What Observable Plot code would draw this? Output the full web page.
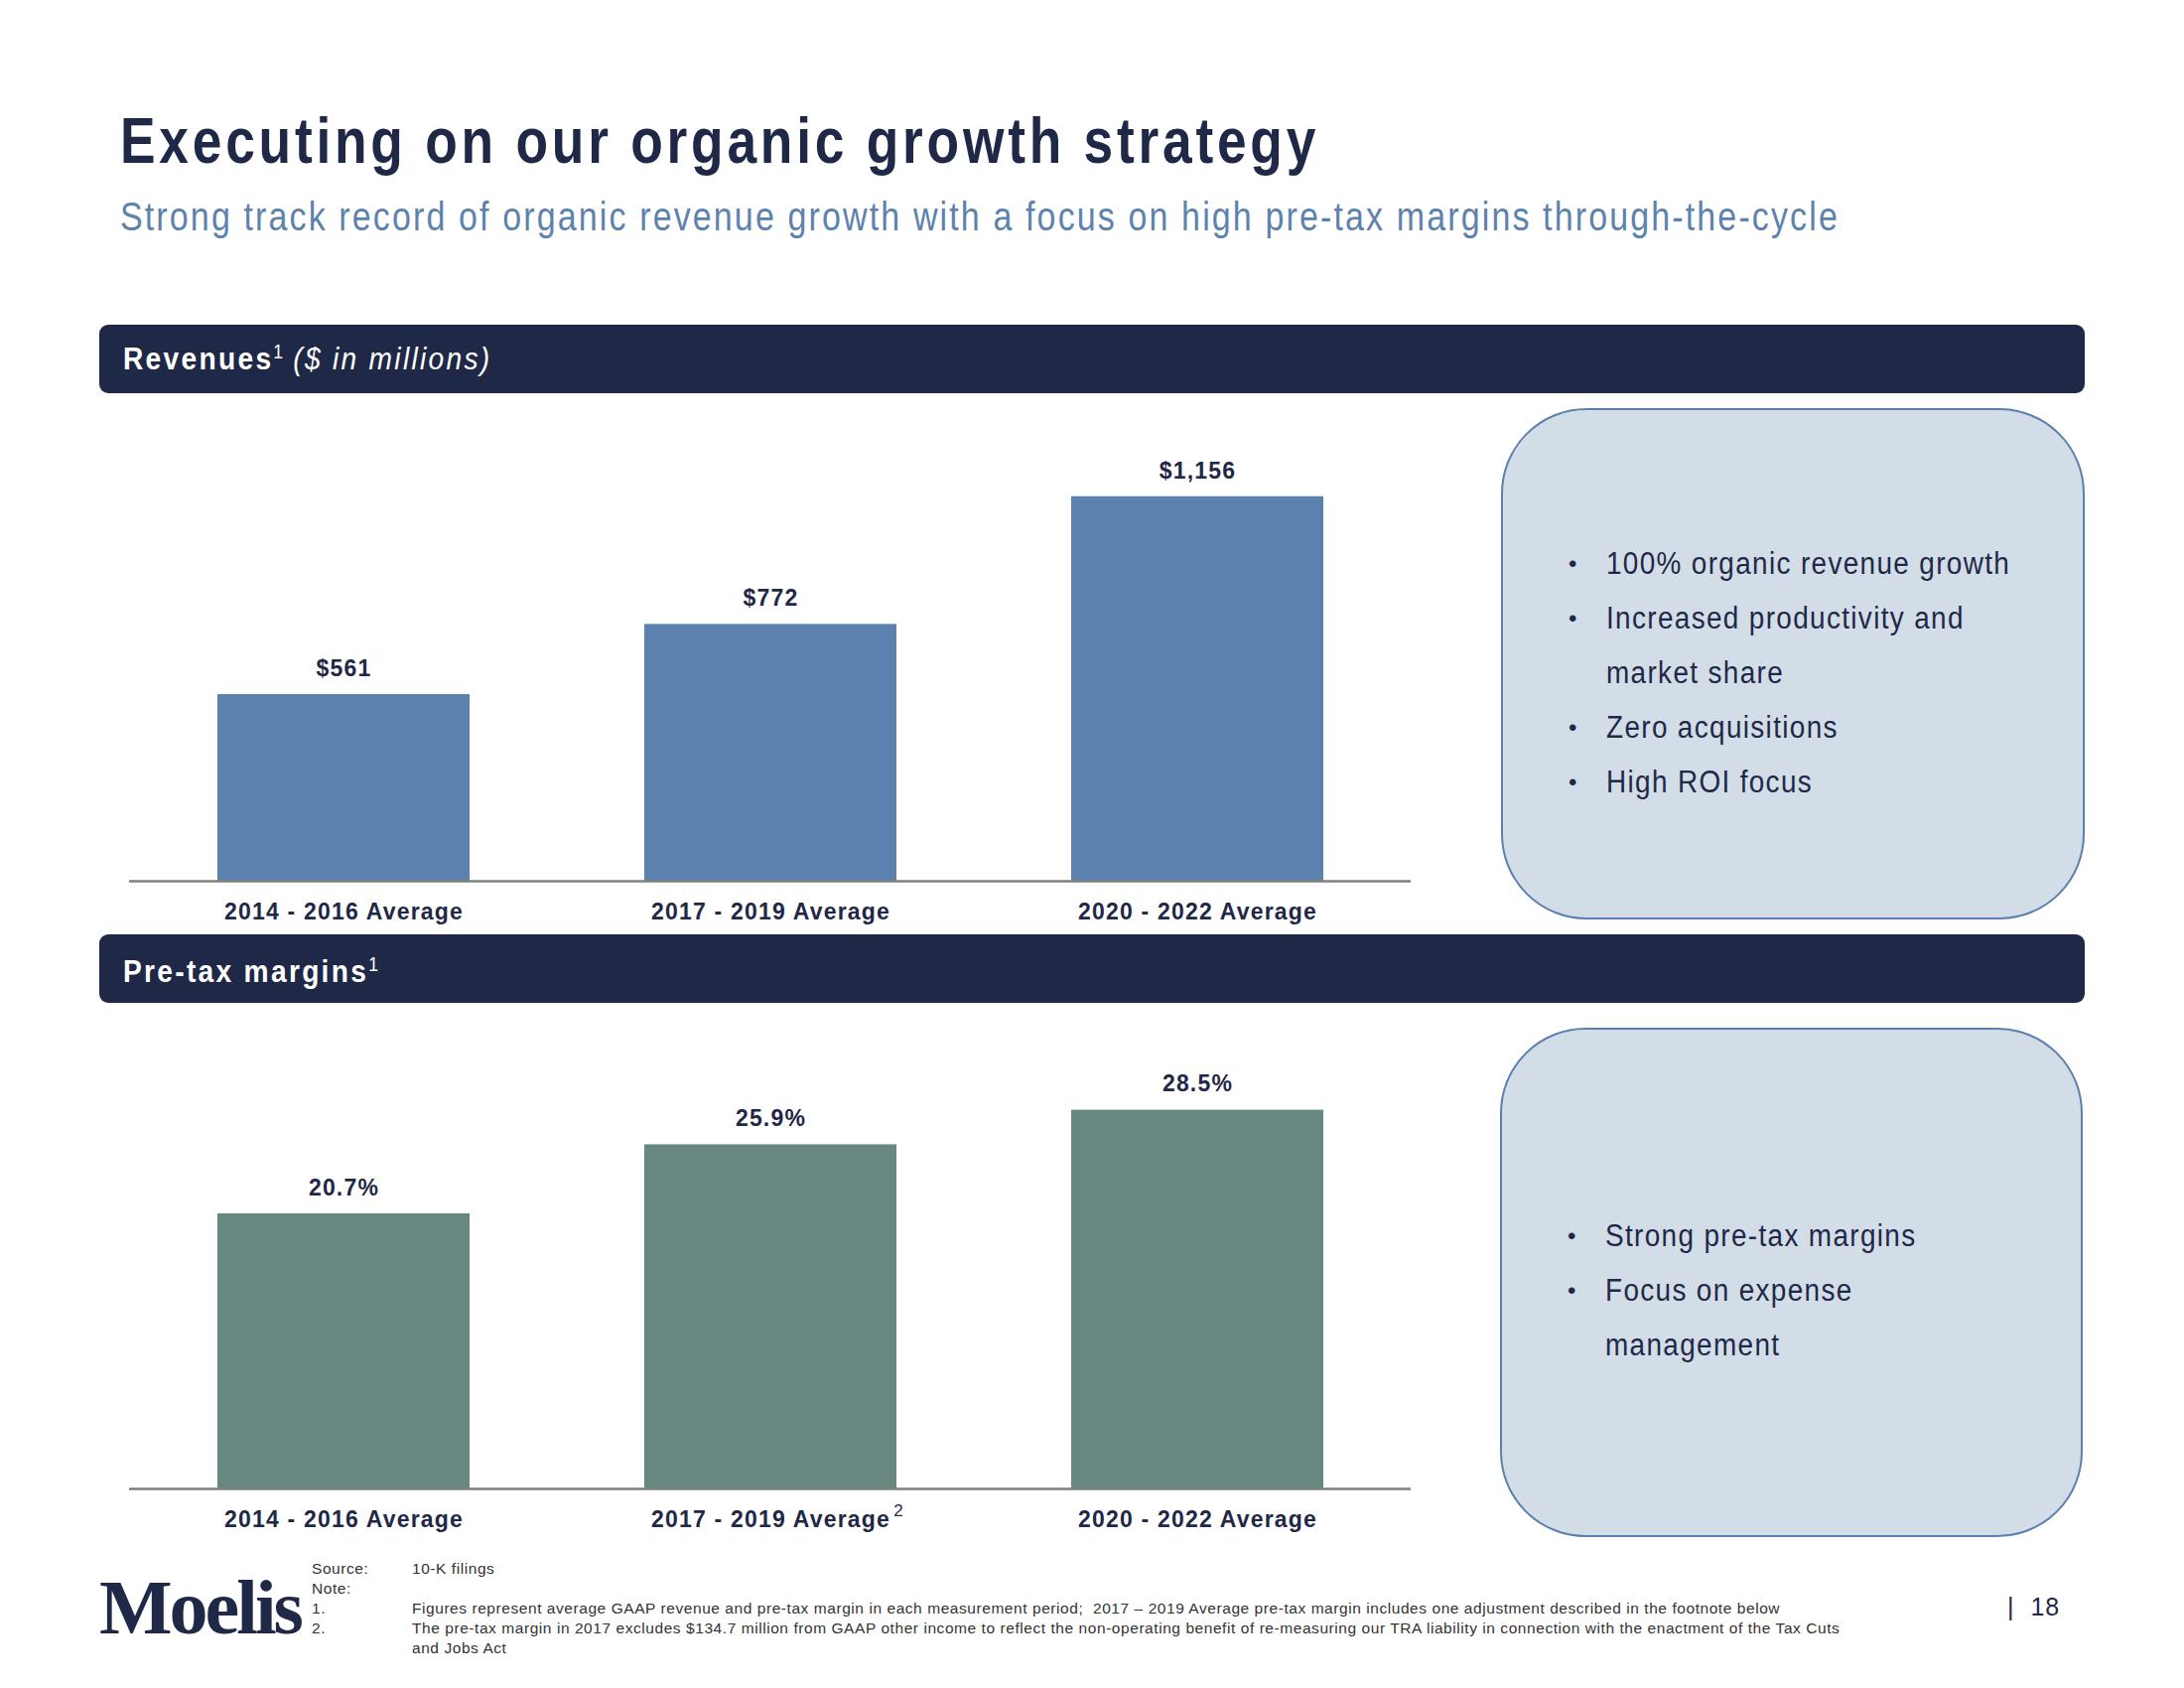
<!DOCTYPE html>
<html>
<head>
<meta charset="utf-8">
<script src="https://cdn.jsdelivr.net/npm/d3@7"></script>
<script src="https://cdn.jsdelivr.net/npm/@observablehq/plot@0.6"></script>
<style>
  html, body { margin: 0; padding: 0; background: #ffffff; }
  #page { position: relative; width: 2200px; height: 1700px; overflow: hidden; background: #fff;
          font-family: "Liberation Sans", Arial, sans-serif; }
  .abs { position: absolute; }
  #title { left: 121px; top: 104px; font-size: 65px; font-weight: bold; color: #1f2847; letter-spacing: 4.6px; white-space: nowrap; transform: scaleX(0.82); transform-origin: 0 0; }
  #subtitle { left: 121px; top: 196px; font-size: 40px; color: #5d82ad; letter-spacing: 2.5px; white-space: nowrap; transform: scaleX(0.85); transform-origin: 0 0; }
  .hdr { left: 100px; width: 2000px; height: 69px; background: #1f2847; border-radius: 9px; }
  .hdrtext { position: absolute; left: 24px; top: 16px; font-size: 32px; color: #fff; letter-spacing: 2.6px; white-space: nowrap; transform: scaleX(0.88); transform-origin: 0 0; }
  .hdrtext b { font-weight: bold; }
  .hdrtext sup { font-size: 20px; vertical-align: 11px; letter-spacing: 0; }
  .hdrtext i { font-style: italic; font-weight: normal; letter-spacing: 2.6px; }
  .box { background: #d3dde7; border: 2.5px solid #5b80ad; border-radius: 86px; box-sizing: border-box; }
  .box ul { list-style: none; margin: 0; padding: 0; position: absolute; left: 66px; }
  .box li { position: relative; font-size: 31px; color: #1f2847; line-height: 55px; padding-left: 38px; letter-spacing: 1.5px; white-space: nowrap; }
  .box li span { display: inline-block; transform: scaleX(0.9); transform-origin: 0 50%; }
  .box li.b::before { content: "•"; position: absolute; left: 0; top: 0; font-size: 24px; }
  .chart { position: absolute; }
  #logo { left: 100px; top: 1574px; font-family: "Liberation Serif", "DejaVu Serif", serif; font-weight: bold; font-size: 78px; color: #1f2847; letter-spacing: -3px; }
  .fn { font-size: 15.5px; color: #333; letter-spacing: 0.56px; white-space: nowrap; line-height: 20px; }
  #pnum { left: 2022px; top: 1604px; font-size: 25px; color: #1f2847; letter-spacing: 1px; }
</style>
</head>
<body>
<div id="page">
  <div id="title" class="abs">Executing on our organic growth strategy</div>
  <div id="subtitle" class="abs">Strong track record of organic revenue growth with a focus on high pre-tax margins through-the-cycle</div>

  <div class="abs hdr" style="top:327px"><div class="hdrtext"><b>Revenues</b><sup>1</sup> <i>($ in millions)</i></div></div>
  <div class="abs hdr" style="top:941px"><div class="hdrtext" style="top:19px"><b>Pre-tax margins</b><sup>1</sup></div></div>

  <div id="chartRev" class="chart" style="left:130px; top:420px"></div>
  <div id="chartMar" class="chart" style="left:130px; top:1040px"></div>

  <div class="abs box" style="left:1512px; top:411px; width:588px; height:515px">
    <ul id="bullets1" style="top:127px"></ul>
  </div>
  <div class="abs box" style="left:1511px; top:1035px; width:587px; height:513px">
    <ul id="bullets2" style="top:180px"></ul>
  </div>

  <div id="logo" class="abs">Moelis</div>
  <div class="abs fn" style="left:314px; top:1570px">Source:<br>Note:<br>1.<br>2.</div>
  <div class="abs fn" style="left:415px; top:1570px">10-K filings<br>&nbsp;<br>
    Figures represent average GAAP revenue and pre-tax margin in each measurement period;&nbsp; 2017 – 2019 Average pre-tax margin includes one adjustment described in the footnote below<br>
    The pre-tax margin in 2017 excludes $134.7 million from GAAP other income to reflect the non-operating benefit of re-measuring our TRA liability in connection with the enactment of the Tax Cuts<br>
    and Jobs Act</div>
  <div id="pnum" class="abs">|&nbsp;&nbsp;18</div>
</div>

<script>
// ---------- data ----------
const periods = ["2014 - 2016 Average", "2017 - 2019 Average", "2020 - 2022 Average"];
const revenues = [561, 772, 1156];            // $ in millions
const margins = [20.7, 25.9, 28.5];           // pre-tax margin %
const marginNotes = ["", "2", ""];            // footnote markers on the margin chart labels
const revenueBullets = [["100% organic revenue growth"], ["Increased productivity and", "market share"], ["Zero acquisitions"], ["High ROI focus"]];
const marginBullets = [["Strong pre-tax margins"], ["Focus on expense", "management"]];

// ---------- bullets ----------
function fillBullets(id, items) {
  const ul = document.getElementById(id);
  items.forEach(lines => {
    lines.forEach((t, i) => {
      const li = document.createElement("li");
      li.className = i === 0 ? "b" : "cont";
      const s = document.createElement("span");
      s.textContent = t;
      li.appendChild(s);
      ul.appendChild(li);
    });
  });
}
fillBullets("bullets1", revenueBullets);
fillBullets("bullets2", marginBullets);

// ---------- charts ----------
const FONT = '"Liberation Sans", Arial, sans-serif';
const W = 1291;

function barChart(values, fmt, color, yMax, plotH, notes) {
  const data = periods.map((p, i) => ({period: p, value: values[i], label: fmt(values[i]), note: notes ? notes[i] : ""}));
  const marks = [
    Plot.barY(data, {x: "period", y: "value", fill: color}),
    Plot.ruleY([0], {stroke: "#7f7f7f", strokeWidth: 2.5}),
    Plot.text(data, {x: "period", y: "value", text: "label", dy: -26, fontSize: 23, fontWeight: "bold", fill: "#1f2847", fontFamily: FONT}),
    Plot.axisX({tickSize: 0, tickPadding: 22, fontSize: 23, fontWeight: "bold", fill: "#1f2847", label: null, fontFamily: FONT})
  ];
  if (notes) {
    marks.push(Plot.text(data.filter(d => d.note), {x: "period", y: 0, text: "note", dx: 129, dy: 22, fontSize: 17, fill: "#1f2847", fontFamily: FONT}));
  }
  return Plot.plot({
    width: W,
    height: plotH + 62,
    marginTop: 0, marginBottom: 62, marginLeft: 0, marginRight: 0,
    x: {domain: periods, paddingInner: 0.41, paddingOuter: 0.206},
    y: {domain: [0, yMax], axis: null},
    style: {fontFamily: FONT, background: "transparent", overflow: "visible", letterSpacing: "1.2px"},
    marks
  });
}

document.getElementById("chartRev").appendChild(
  barChart(revenues, v => "$" + d3.format(",")(v), "#5b82ae", 1394, 467, null)
);
document.getElementById("chartMar").appendChild(
  barChart(margins, v => v.toFixed(1) + "%", "#688780", 34.3, 459, marginNotes)
);
</script>
</body>
</html>
